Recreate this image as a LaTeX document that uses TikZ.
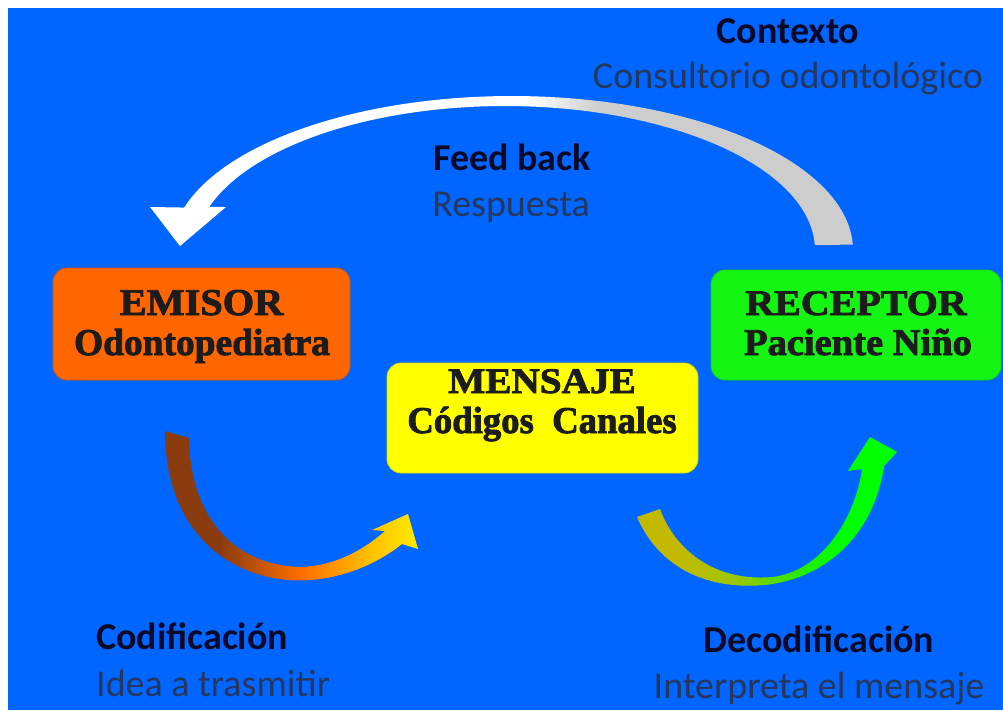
\documentclass[tikz,border=0pt]{standalone}
\usepackage{fontspec}
\setmainfont{Liberation Serif}
\setsansfont{Carlito}
\newfontfamily\heavyserif{Liberation Serif}[BoldFeatures={FakeBold=2.2}]
\usepackage{graphicx}
\definecolor{bgblue}{RGB}{0,102,255}
\definecolor{emorange}{RGB}{255,102,0}
\definecolor{msyellow}{RGB}{255,255,0}
\definecolor{rcgreen}{RGB}{20,245,20}
\definecolor{titlecol}{RGB}{10,10,40}
\definecolor{subcol}{RGB}{38,54,92}
\definecolor{boxtextcol}{RGB}{28,28,28}
\definecolor{fbgray}{RGB}{205,205,205}
\definecolor{codbrown}{RGB}{139,60,15}
\definecolor{codorange}{RGB}{255,110,0}
\definecolor{codgold}{RGB}{255,195,0}
\definecolor{codyellow}{RGB}{255,235,0}
\definecolor{decolive}{RGB}{195,185,0}
\definecolor{decyg}{RGB}{150,200,0}
\definecolor{decgreen}{RGB}{40,235,0}
\definecolor{decpure}{RGB}{0,255,0}
\pgfdeclarehorizontalshading{fbshade}{100bp}{color(0bp)=(white); color(52bp)=(white); color(57bp)=(fbgray); color(100bp)=(fbgray)}
\pgfdeclarehorizontalshading{codshade}{100bp}{color(0bp)=(codbrown); color(36bp)=(codbrown); color(52bp)=(codorange); color(66bp)=(codgold); color(75bp)=(codyellow); color(100bp)=(codyellow)}
\pgfdeclarehorizontalshading{decshade}{100bp}{color(0bp)=(decolive); color(33bp)=(decolive); color(45bp)=(decyg); color(56bp)=(decgreen); color(64bp)=(decpure); color(100bp)=(decpure)}
\tikzset{
  box/.style={rounded corners=14pt, line width=0.8pt, inner sep=0pt},
  boxline/.style={font=\heavyserif\fontsize{36}{40}\selectfont\bfseries, text=boxtextcol, anchor=base, inner sep=0pt},
  titletxt/.style={font=\sffamily\bfseries\fontsize{38}{44}\selectfont, text=titlecol, anchor=base, inner sep=0pt},
  subtxt/.style={font=\sffamily\fontsize{38}{44}\selectfont, text=subcol, anchor=base, inner sep=0pt}
}
\begin{document}
\begin{tikzpicture}[x=1pt,y=-1pt]
\useasboundingbox (0,0) rectangle (1003,710);
\fill[white] (0,0) rectangle (1003,710);
\fill[bgblue] (8,8) rectangle (1003,710);

% feedback arrow
\shade[shading=fbshade] plot[domain=2:164,samples=90] ({512+341*cos(\x)},{250-154*sin(\x)})
  -- (150,207) -- (180,246) -- (226,207)
  -- plot[domain=162.6:2,samples=90] ({505+310*cos(\x)},{250-144*sin(\x)}) -- cycle;

% codificacion arrow
\shade[shading=codshade] (165,431) .. controls (165,540) and (240,585) .. (310,580)
  .. controls (350,577) and (382,560) .. (402,544)
  -- (418,549) -- (408,514) -- (372,530) -- (385,531)
  .. controls (360,553) and (332,566) .. (300,567)
  .. controls (232,565) and (190,515) .. (189,438) -- cycle;

% decodificacion arrow
\shade[shading=decshade] (637,517) .. controls (660,570) and (710,590) .. (765,585)
  .. controls (830,578) and (875,530) .. (884,466)
  -- (897,452) -- (870,437) -- (848,471) -- (862,469)
  .. controls (855,520) and (820,572) .. (772,577)
  .. controls (715,582) and (675,550) .. (660,509) -- cycle;

% boxes
\node[box, fill=emorange, draw=emorange!85!black, minimum width=297pt, minimum height=112pt] (emisor) at (201.5,324) {};
\node[box, fill=msyellow, draw=msyellow!85!black, minimum width=311pt, minimum height=110pt] (mensaje) at (542.5,418) {};
\node[box, fill=rcgreen, draw=rcgreen!85!black, minimum width=290pt, minimum height=110pt] (receptor) at (856,325) {};

\node[boxline] (emisor1) at (201.5,315) {\scalebox{1.12}[1.05]{EMISOR}};
\node[boxline] (emisor2) at (202,355) {\scalebox{1.04}[1.05]{Odontopediatra}};
\node[boxline] (mensaje1) at (542,393) {\scalebox{1.09}[1.0]{MENSAJE}};
\node[boxline] (mensaje2) at (542,433) {\scalebox{1.02}[1.05]{Códigos\ \ Canales}};
\node[boxline] (receptor1) at (856,315) {\scalebox{1.11}[1.0]{RECEPTOR}};
\node[boxline] (receptor2) at (858,355) {\scalebox{1.07}[1.05]{Paciente Niño}};

% labels
\node[titletxt] (contexto) at (788,43) {Contexto};
\node[subtxt] (consultorio) at (788,88) {Consultorio odontológico};
\node[titletxt] (feedback) at (512,170) {Feed back};
\node[subtxt] (respuesta) at (511,216) {Respuesta};
\node[titletxt, anchor=base west] (codif) at (96,649) {Codificación};
\node[subtxt, anchor=base west] (idea) at (96,696) {Idea a trasmitir};
\node[titletxt] (decodif) at (819,652) {Decodificación};
\node[subtxt] (interpreta) at (819,698) {Interpreta el mensaje};
\end{tikzpicture}
\end{document}
